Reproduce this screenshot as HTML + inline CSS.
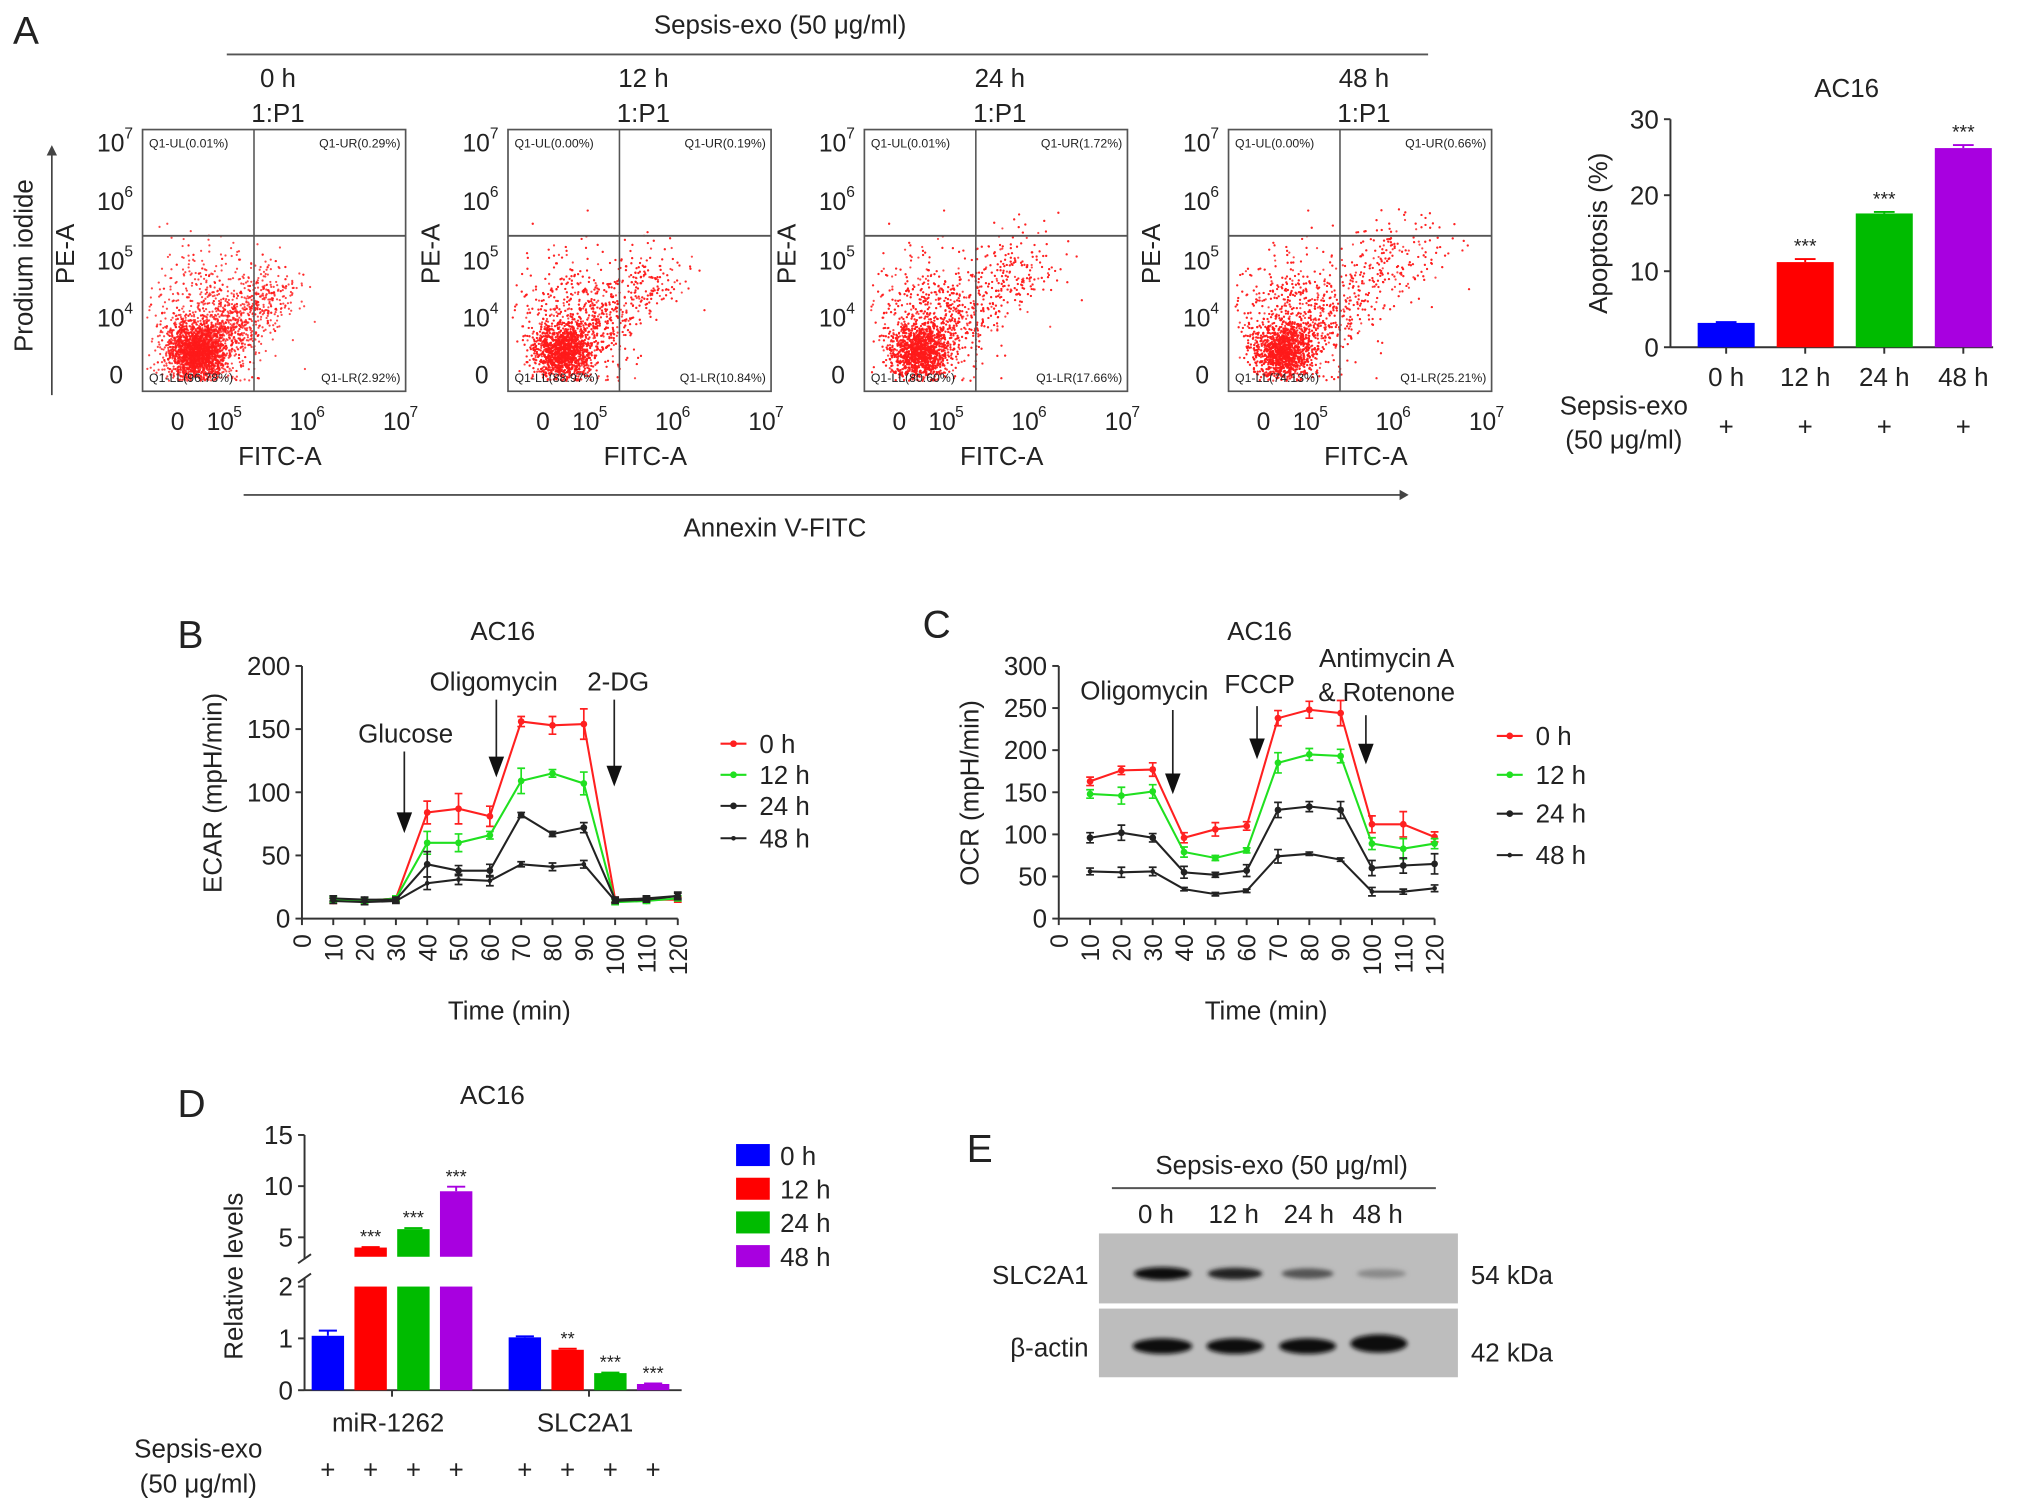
<!DOCTYPE html>
<html><head><meta charset="utf-8">
<style>
html,body{margin:0;padding:0;background:#fff;}
svg{display:block;}
text{font-family:"Liberation Sans",Arial,sans-serif;fill:#222;}
</style></head>
<body>
<svg id="fig" xmlns="http://www.w3.org/2000/svg" width="2032" height="1512" viewBox="0 0 1568 1167" preserveAspectRatio="none">
<rect x="0" y="0" width="1568" height="1167" fill="#fff"/>
<text x="10" y="34" font-size="30">A</text>
<text x="602" y="26" font-size="20" text-anchor="middle">Sepsis-exo (50 μg/ml)</text>
<line x1="175" y1="42" x2="1102" y2="42" stroke="#555" stroke-width="1.5"/>
<text transform="translate(25,205) rotate(-90)" font-size="20" text-anchor="middle">Prodium iodide</text>
<line x1="40" y1="305" x2="40" y2="118" stroke="#444" stroke-width="1.3"/>
<polygon points="36,120 44,120 40,112" fill="#444"/>
<line x1="188" y1="382" x2="1082" y2="382" stroke="#555" stroke-width="1.5"/>
<polygon points="1080,378 1080,386 1087,382" fill="#444"/>
<text x="598" y="414" font-size="20" text-anchor="middle">Annexin V-FITC</text>
<g id="flow"></g>
<g id="apop"></g>
<g id="ecar"></g>
<g id="ocr"></g>
<g id="rel"></g>
<g>
<text x="746" y="897" font-size="30">E</text>
<text x="989" y="906" font-size="20" text-anchor="middle">Sepsis-exo (50 μg/ml)</text>
<line x1="858" y1="917" x2="1108" y2="917" stroke="#555" stroke-width="1.5"/>
<text x="892" y="944" font-size="20" text-anchor="middle">0 h</text>
<text x="952" y="944" font-size="20" text-anchor="middle">12 h</text>
<text x="1010" y="944" font-size="20" text-anchor="middle">24 h</text>
<text x="1063" y="944" font-size="20" text-anchor="middle">48 h</text>
<rect x="848" y="952" width="277" height="54" fill="#bdbdbd"/>
<rect x="848" y="1010" width="277" height="53" fill="#bdbdbd"/>
<defs><filter id="blur" x="-20%" y="-50%" width="140%" height="200%"><feGaussianBlur stdDeviation="1.6"/></filter></defs>
<ellipse cx="897" cy="983" rx="22" ry="5" fill="#111" filter="url(#blur)"/>
<ellipse cx="953" cy="983" rx="21" ry="4.5" fill="#222" filter="url(#blur)"/>
<ellipse cx="1009" cy="983" rx="20" ry="4" fill="#555" filter="url(#blur)"/>
<ellipse cx="1066" cy="983" rx="19" ry="3.5" fill="#8a8a8a" filter="url(#blur)"/>
<ellipse cx="897" cy="1039" rx="23" ry="6" fill="#111" filter="url(#blur)"/>
<ellipse cx="953" cy="1039" rx="22" ry="6" fill="#111" filter="url(#blur)"/>
<ellipse cx="1009" cy="1039" rx="22" ry="6" fill="#111" filter="url(#blur)"/>
<ellipse cx="1064" cy="1037" rx="22" ry="7" fill="#0a0a0a" filter="url(#blur)"/>
<text x="840" y="991" font-size="20" text-anchor="end">SLC2A1</text>
<text x="840" y="1047" font-size="20" text-anchor="end">β-actin</text>
<text x="1135" y="991" font-size="20">54 kDa</text>
<text x="1135" y="1051" font-size="20">42 kDa</text>
</g>
</svg>
<script>
var NS='http://www.w3.org/2000/svg';
function mk(parent,tag,attrs,txt){var e=document.createElementNS(NS,tag);for(var k in attrs)e.setAttribute(k,attrs[k]);if(txt!==undefined)e.textContent=txt;parent.appendChild(e);return e;}

/* ---------- Panel A flow plots ---------- */
var flowTimes=['0 h','12 h','24 h','48 h'];
var flowUL=['0.01%','0.00%','0.01%','0.00%'];
var flowUR=['0.29%','0.19%','1.72%','0.66%'];
var flowLL=['96.78%','88.97%','80.60%','74.13%'];
var flowLR=['2.92%','10.84%','17.66%','25.21%'];
var flowLeft=[110,392,667,948];
var flowG=document.getElementById('flow');
var seed=12345;
function rnd(){seed=(seed*1103515245+12345)%2147483648;return seed/2147483648;}
function gauss(){return Math.sqrt(-2*Math.log(rnd()+1e-9))*Math.cos(2*Math.PI*rnd());}
flowTimes.forEach(function(t,i){
  var L=flowLeft[i],T=100,W=203,H=202,cx=L+W/2+3;
  var g=mk(flowG,'g',{});
  
  
  var a=mk(g,'text',{x:cx,y:67,'font-size':20,'text-anchor':'middle'},t);
  
  
  var b=mk(g,'text',{x:cx,y:94,'font-size':20,'text-anchor':'middle'},'1:P1');
  
  
  var frac=parseFloat(flowLR[i])/100;
  var dg=mk(g,'g',{fill:'#ff1a1a','fill-opacity':0.8});
  
  
  var n=3600;
  for(var k=0;k<n;k++){
    var x,y,r=rnd();
    if(r<0.6-frac*0.5){x=L+42+gauss()*11;y=T+172+gauss()*11;}
    else if(r<0.8-frac*0.3){x=L+48+gauss()*22;y=T+150+gauss()*28;}
    else{
      var s=Math.pow(rnd(),1.2)*(0.5+frac*1.6);
      if(s>1)s=rnd();
      x=L+40+s*125+gauss()*(12+frac*22);
      y=T+175-s*105+gauss()*(12+frac*20);
    }
    if(x<L+3||x>L+W-3||y<T+60||y>T+H-8)continue;
    var c=mk(dg,'circle',{cx:x.toFixed(1),cy:y.toFixed(1),r:0.85});
    
    
  }
  var box=mk(g,'rect',{x:L,y:T,width:W,height:H,fill:'none',stroke:'#555','stroke-width':1.3});
  
  
  var hl=mk(g,'line',{x1:L,y1:T+82,x2:L+W,y2:T+82,stroke:'#555','stroke-width':1.5});
  
  
  var vl=mk(g,'line',{x1:L+86,y1:T,x2:L+86,y2:T+H,stroke:'#555','stroke-width':1.2});
  
  
  var q=[['Q1-UL('+flowUL[i]+')',L+5,T+14,'start'],['Q1-UR('+flowUR[i]+')',L+W-4,T+14,'end'],['Q1-LL('+flowLL[i]+')',L+5,T+H-7,'start'],['Q1-LR('+flowLR[i]+')',L+W-4,T+H-7,'end']];
  q.forEach(function(qq){
    var e=mk(g,'text',{x:qq[1],y:qq[2],'font-size':9.5,'text-anchor':qq[3]},qq[0]);
    
    
  });
  var yt=[['7',T+5],['6',T+50],['5',T+96],['4',T+140]];
  yt.forEach(function(v){
    var e=mk(g,'text',{x:L-14,y:v[1]+12,'font-size':19,'text-anchor':'end'},'10');
    
    
    var s=mk(g,'text',{x:L-14,y:v[1]+2,'font-size':12},v[0]);
    
    
  });
  var z=mk(g,'text',{x:L-15,y:T+196,'font-size':19,'text-anchor':'end'},'0');
  
  
  var xz=mk(g,'text',{x:L+27,y:T+232,'font-size':19,'text-anchor':'middle'},'0');
  
  
  [['5',L+60],['6',L+124],['7',L+196]].forEach(function(v){
    var e=mk(g,'text',{x:v[1],y:T+232,'font-size':19,'text-anchor':'middle'},'10');
    
    
    var s=mk(g,'text',{x:v[1]+10,y:T+222,'font-size':12},v[0]);
    
    
  });
  var xl=mk(g,'text',{x:L+106,y:T+259,'font-size':20,'text-anchor':'middle'},'FITC-A');
  
  
  var yl=mk(g,'text',{transform:'translate('+(L-53)+','+(T+96)+') rotate(-90)','font-size':20,'text-anchor':'middle'},'PE-A');
  
  
});

/* ---------- Panel A bar chart ---------- */
var apopCats=['0 h','12 h','24 h','48 h'];
var apopVals=[3.2,11.2,17.6,26.2];
var apopErr=[0.1,0.4,0.2,0.4];
var apopTicks=[0,10,20,30];
var apopColors=['#0000ff','#ff0000','#00bb00','#a800e0'];
(function(){
  var g=document.getElementById('apop');
  var X0=1289,Y0=268,X1=1538,Ytop=92;
  function y(v){return Y0-v*(Y0-Ytop)/30;}
  function xc(i){return 1332+i*61;}
  var t=mk(g,'text',{x:1425,y:75,'font-size':20,'text-anchor':'middle'},'AC16');
  
  
  var ax=mk(g,'line',{x1:X0,y1:Ytop,x2:X0,y2:Y0,stroke:'#333','stroke-width':1.5});
  
  
  var bx=mk(g,'line',{x1:X0,y1:Y0,x2:X1,y2:Y0,stroke:'#333','stroke-width':1.5});
  
  
  apopTicks.forEach(function(v){
    var l=mk(g,'line',{x1:X0-5,y1:y(v),x2:X0,y2:y(v),stroke:'#333','stroke-width':1.5});
    
    
    var e=mk(g,'text',{x:X0-9,y:y(v)+7,'font-size':20,'text-anchor':'end'},v);
    
    
  });
  var yl=mk(g,'text',{transform:'translate(1240,180) rotate(-90)','font-size':20,'text-anchor':'middle'},'Apoptosis (%)');
  
  
  apopVals.forEach(function(v,i){
    var r=mk(g,'rect',{x:xc(i)-22,y:y(v),width:44,height:Y0-y(v),fill:apopColors[i]});
    
    
    var e=mk(g,'line',{x1:xc(i),y1:y(v),x2:xc(i),y2:y(v+apopErr[i]),stroke:apopColors[i],'stroke-width':1.5});
    
    
    var c=mk(g,'line',{x1:xc(i)-8,y1:y(v+apopErr[i]),x2:xc(i)+8,y2:y(v+apopErr[i]),stroke:apopColors[i],'stroke-width':1.5});
    
    
    var tk=mk(g,'line',{x1:xc(i),y1:Y0,x2:xc(i),y2:Y0+5,stroke:'#333','stroke-width':1.5});
    
    
    var lb=mk(g,'text',{x:xc(i),y:298,'font-size':20,'text-anchor':'middle'},apopCats[i]);
    
    
    var p=mk(g,'text',{x:xc(i),y:336,'font-size':20,'text-anchor':'middle'},'+');
    
    
    if(i>0){var s=mk(g,'text',{x:xc(i),y:y(v+apopErr[i])-5,'font-size':15,'text-anchor':'middle'},'***');
    
    }
  });
  var s1=mk(g,'text',{x:1253,y:320,'font-size':20,'text-anchor':'middle'},'Sepsis-exo');
  
  
  var s2=mk(g,'text',{x:1253,y:346,'font-size':20,'text-anchor':'middle'},'(50 μg/ml)');
  
  
})();

/* ---------- Panels B & C line charts ---------- */
var timePoints=[10,20,30,40,50,60,70,80,90,100,110,120];
var timeTicks=[0,10,20,30,40,50,60,70,80,90,100,110,120];
var seriesNames=['0 h','12 h','24 h','48 h'];
var seriesColors=['#ff2020','#20e020','#222222','#222222'];
var ecar0=[14,14,16,84,87,81,156,153,154,15,15,15];
var ecar12=[15,14,16,60,60,66,109,115,107,13,14,16];
var ecar24=[16,15,15,43,38,38,82,67,72,15,16,18];
var ecar48=[14,13,14,28,31,30,43,41,43,14,15,18];
var ecarErr0=[2,2,2,9,12,8,4,7,12,2,2,2];
var ecarErr12=[2,2,2,9,7,3,10,3,9,2,2,2];
var ecarErr24=[2,2,2,10,4,5,2,2,4,2,2,2];
var ecarErr48=[2,2,2,5,4,4,2,3,3,2,2,3];
var ecarTicks=[0,50,100,150,200];
var ocr0=[163,176,177,96,106,110,238,248,244,112,112,97];
var ocr12=[148,146,151,79,72,81,185,195,193,89,83,89];
var ocr24=[96,102,96,55,52,57,129,133,129,60,63,65];
var ocr48=[56,55,56,35,29,33,74,77,70,32,32,36];
var ocrErr0=[5,5,8,6,8,5,9,10,15,10,15,6];
var ocrErr12=[5,10,8,6,3,3,12,7,8,7,12,6];
var ocrErr24=[6,9,5,7,3,7,9,6,10,9,9,12];
var ocrErr48=[4,6,5,2,2,2,8,2,2,5,3,4];
var ocrTicks=[0,50,100,150,200,250,300];

function lineChart(gid,cfg){
  var g=document.getElementById(gid);
  var X0=cfg.x0,Y0=709,Ytop=514,W=290;
  function x(t){return X0+t*W/120;}
  function y(v){return Y0-v*(Y0-Ytop)/cfg.ymax;}
  var pl=mk(g,'text',{x:cfg.px,y:cfg.py,'font-size':30},cfg.panel);
  
  
  var t=mk(g,'text',{x:x(60)+10,y:494,'font-size':20,'text-anchor':'middle'},'AC16');
  
  
  var ya=mk(g,'line',{x1:X0,y1:Ytop,x2:X0,y2:Y0,stroke:'#333','stroke-width':1.5});
  
  
  var xa=mk(g,'line',{x1:X0,y1:Y0,x2:x(120),y2:Y0,stroke:'#333','stroke-width':1.5});
  
  
  cfg.yticks.forEach(function(v){
    var l=mk(g,'line',{x1:X0-5,y1:y(v),x2:X0,y2:y(v),stroke:'#333','stroke-width':1.5});
    
    
    var e=mk(g,'text',{x:X0-9,y:y(v)+7,'font-size':20,'text-anchor':'end'},v);
    
    
  });
  timeTicks.forEach(function(v){
    var l=mk(g,'line',{x1:x(v),y1:Y0,x2:x(v),y2:Y0+5,stroke:'#333','stroke-width':1.5});
    
    
    var e=mk(g,'text',{transform:'translate('+(x(v)+7)+','+(Y0+12)+') rotate(-90)','font-size':19,'text-anchor':'end'},v);
    
    
  });
  var xt=mk(g,'text',{x:x(60)+15,y:787,'font-size':20,'text-anchor':'middle'},'Time (min)');
  
  
  var yt=mk(g,'text',{transform:'translate('+(X0-62)+',612) rotate(-90)','font-size':20,'text-anchor':'middle'},cfg.ylabel);
  
  
  cfg.annots.forEach(function(a){
    a.lines.forEach(function(s,k){
      var e=mk(g,'text',{x:a.tx,y:a.ty+k*26,'font-size':20,'text-anchor':'middle'},s);
      
      
    });
    var l=mk(g,'line',{x1:a.ax,y1:a.y1,x2:a.ax,y2:a.y2-12,stroke:'#222','stroke-width':1.3});
    
    
    var h=mk(g,'polygon',{points:(a.ax-6)+','+(a.y2-16)+' '+(a.ax+6)+','+(a.y2-16)+' '+a.ax+','+a.y2,fill:'#111'});
    
    
  });
  cfg.series.forEach(function(vals,si){
    var col=seriesColors[si],err=cfg.errs[si];
    var sg=mk(g,'g',{});
    
    
    var d=vals.map(function(v,k){return (k?'L':'M')+x(timePoints[k]).toFixed(1)+','+y(v).toFixed(1);}).join('');
    var p=mk(sg,'path',{d:d,fill:'none',stroke:col,'stroke-width':1.6});
    
    
    vals.forEach(function(v,k){
      var xx=x(timePoints[k]);
      var eb=mk(sg,'path',{d:'M'+xx+','+y(v-err[k])+'L'+xx+','+y(v+err[k])+'M'+(xx-3)+','+y(v-err[k])+'L'+(xx+3)+','+y(v-err[k])+'M'+(xx-3)+','+y(v+err[k])+'L'+(xx+3)+','+y(v+err[k]),stroke:col,'stroke-width':1.3,fill:'none'});
      
      
      var c=mk(sg,'circle',{cx:xx,cy:y(v),r:si==3?1.8:2.6,fill:col});
      
      
    });
    var ly=cfg.legY[si];
    var ll=mk(g,'line',{x1:cfg.legX,y1:ly,x2:cfg.legX+20,y2:ly,stroke:col,'stroke-width':1.6});
    
    
    var lc=mk(g,'circle',{cx:cfg.legX+10,cy:ly,r:si==3?1.8:2.6,fill:col});
    
    
    var lt=mk(g,'text',{x:cfg.legX+30,y:ly+7,'font-size':20},seriesNames[si]);
    
    
  });
}
lineChart('ecar',{x0:233,ymax:200,panel:'B',px:137,py:500,ylabel:'ECAR (mpH/min)',yticks:ecarTicks,
  series:[ecar0,ecar12,ecar24,ecar48],errs:[ecarErr0,ecarErr12,ecarErr24,ecarErr48],
  legX:556,legY:[574,598,622,647],
  annots:[{lines:['Glucose'],tx:313,ty:573,ax:312,y1:580,y2:643},{lines:['Oligomycin'],tx:381,ty:533,ax:383,y1:540,y2:600},{lines:['2-DG'],tx:477,ty:533,ax:474,y1:540,y2:607}]});
lineChart('ocr',{x0:817,ymax:300,panel:'C',px:712,py:492,ylabel:'OCR (mpH/min)',yticks:ocrTicks,
  series:[ocr0,ocr12,ocr24,ocr48],errs:[ocrErr0,ocrErr12,ocrErr24,ocrErr48],
  legX:1155,legY:[568,598,628,660],
  annots:[{lines:['Oligomycin'],tx:883,ty:540,ax:905,y1:548,y2:613},{lines:['FCCP'],tx:972,ty:535,ax:970,y1:545,y2:586},{lines:['Antimycin A','& Rotenone'],tx:1070,ty:515,ax:1054,y1:552,y2:590}]});

/* ---------- Panel D broken-axis bar chart ---------- */
var relGroups=['miR-1262','SLC2A1'];
var relNames=['0 h','12 h','24 h','48 h'];
var relMir=[1.05,4.0,5.8,9.5];
var relSlc=[1.02,0.78,0.33,0.12];
var relErrMir=[0.1,0.05,0.1,0.45];
var relErrSlc=[0.02,0.02,0.01,0.01];
var relStarsMir=['','***','***','***'];
var relStarsSlc=['','**','***','***'];
var relLowTicks=[0,1,2];
var relHighTicks=[5,10,15];
var relColors=['#0000ff','#ff0000','#00bb00','#a800e0'];
(function(){
  var g=document.getElementById('rel');
  var X0=235,Y0=1073,X1=526;
  function y(v){return v<=2.2?Y0-v*40:955-(v-5)*7.9;}
  var pl=mk(g,'text',{x:137,y:862,'font-size':30},'D');
  
  
  var t=mk(g,'text',{x:380,y:852,'font-size':20,'text-anchor':'middle'},'AC16');
  
  
  var a1=mk(g,'line',{x1:X0,y1:876,x2:X0,y2:972,stroke:'#333','stroke-width':1.5});
  
  
  var a2=mk(g,'line',{x1:X0,y1:986,x2:X0,y2:Y0,stroke:'#333','stroke-width':1.5});
  
  
  var bk=mk(g,'path',{d:'M230,975L240,968M230,990L240,983',stroke:'#333','stroke-width':1.5,fill:'none'});
  
  
  var xa=mk(g,'line',{x1:X0,y1:Y0,x2:X1,y2:Y0,stroke:'#333','stroke-width':1.5});
  
  
  relLowTicks.concat(relHighTicks).forEach(function(v){
    var l=mk(g,'line',{x1:X0-5,y1:y(v),x2:X0,y2:y(v),stroke:'#333','stroke-width':1.5});
    
    
    var e=mk(g,'text',{x:X0-9,y:y(v)+7,'font-size':20,'text-anchor':'end'},v);
    
    
  });
  var yl=mk(g,'text',{transform:'translate(187,985) rotate(-90)','font-size':20,'text-anchor':'middle'},'Relative levels');
  
  
  [relMir,relSlc].forEach(function(vals,gi){
    var errs=gi?relErrSlc:relErrMir,stars=gi?relStarsSlc:relStarsMir;
    var base=gi?405:253;
    var gc=base+49.5;
    var tk=mk(g,'line',{x1:gc,y1:Y0,x2:gc,y2:Y0+5,stroke:'#333','stroke-width':1.5});
    
    
    var gl=mk(g,'text',{x:gc-3,y:1105,'font-size':20,'text-anchor':'middle'},relGroups[gi]);
    
    
    vals.forEach(function(v,i){
      var xc=base+i*33,col=relColors[i],w=25;
      if(v>2.2){
        var r1=mk(g,'rect',{x:xc-w/2,y:y(2),width:w,height:Y0-y(2),fill:col});
        
        
        var r2=mk(g,'rect',{x:xc-w/2,y:y(v),width:w,height:970-y(v),fill:col});
        
        
      } else {
        var r=mk(g,'rect',{x:xc-w/2,y:y(v),width:w,height:Y0-y(v),fill:col});
        
        
      }
      var ye=y(v+errs[i]);
      var eb=mk(g,'path',{d:'M'+xc+','+y(v)+'L'+xc+','+ye+'M'+(xc-7)+','+ye+'L'+(xc+7)+','+ye,stroke:col,'stroke-width':1.5,fill:'none'});
      
      
      if(stars[i]){var s=mk(g,'text',{x:xc,y:ye-3,'font-size':14,'text-anchor':'middle'},stars[i]);
      
      }
      var p=mk(g,'text',{x:xc,y:1141,'font-size':20,'text-anchor':'middle'},'+');
      
      
    });
  });
  var s1=mk(g,'text',{x:153,y:1125,'font-size':20,'text-anchor':'middle'},'Sepsis-exo');
  
  
  var s2=mk(g,'text',{x:153,y:1152,'font-size':20,'text-anchor':'middle'},'(50 μg/ml)');
  
  
  relNames.forEach(function(n,i){
    var yy=891+i*26;
    var r=mk(g,'rect',{x:568,y:yy-8,width:26,height:17,fill:relColors[i]});
    
    
    var tx=mk(g,'text',{x:602,y:yy+8,'font-size':20},n);
    
    
  });
})();
</script>
</body></html>
